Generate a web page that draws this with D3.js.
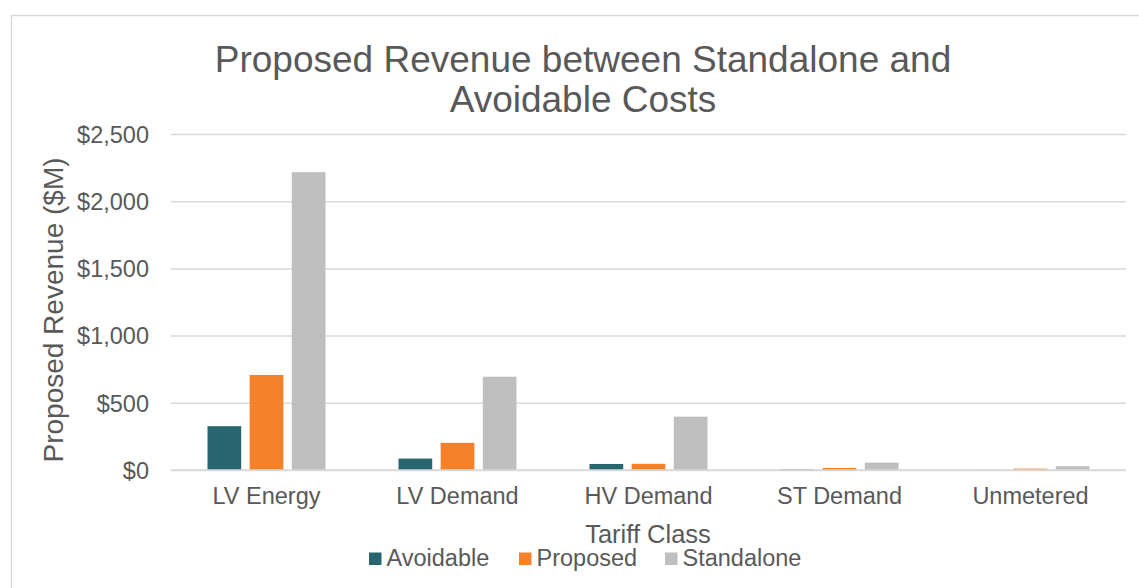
<!DOCTYPE html>
<html>
<head>
<meta charset="utf-8">
<script src="https://cdn.jsdelivr.net/npm/d3@7"></script>
<style>
  body { margin: 0; background: #fff; }
  svg text { font-family: "Liberation Sans", Arial, sans-serif; fill: #595959; }
</style>
</head>
<body>
<svg id="chart" width="1139" height="588"></svg>
<script>
"use strict";

// values ($M)
var categories = ["LV Energy", "LV Demand", "HV Demand", "ST Demand", "Unmetered"];
var seriesNames = ["Avoidable", "Proposed", "Standalone"];
var avoidable = [326, 85, 45, 4, 1];
var proposed = [707, 202, 46, 15, 10];
var standalone = [2216, 694, 397, 55, 28];
var yTicks = [0, 500, 1000, 1500, 2000, 2500];

var colors = {
  "Avoidable": "#27666e",
  "Proposed": "#f5812a",
  "Standalone": "#bfbfbf"
};

var svg = d3.select("#chart");

// chart border (only left and top show in the crop)
svg.append("rect")
  .attr("x", 11.5)
  .attr("y", 15.5)
  .attr("width", 1160)
  .attr("height", 600)
  .style("fill", "none")
  .style("stroke", "#d9d9d9")
  .style("stroke-width", 1.5);

var plot = { left: 171, right: 1126, top: 134, bottom: 470 };

var x0 = d3.scaleBand()
  .domain(categories)
  .range([plot.left, plot.right]);

var groupWidth = 118;
var x1 = d3.scaleBand()
  .domain(seriesNames)
  .range([0, groupWidth])
  .paddingInner(0.2);

var y = d3.scaleLinear()
  .domain([0, 2500])
  .range([plot.bottom, plot.top]);

// gridlines + tick labels
var yAxis = d3.axisLeft(y)
  .tickValues(yTicks)
  .tickSize(-(plot.right - plot.left))
  .tickPadding(22)
  .tickFormat(function (d) { return "$" + d3.format(",")(d); });

var yG = svg.append("g")
  .attr("transform", "translate(" + plot.left + ",0)")
  .call(yAxis);
yG.select(".domain").remove();
yG.selectAll(".tick line")
  .style("stroke", "#d9d9d9")
  .style("stroke-width", 1.5);
yG.selectAll(".tick text")
  .style("font-size", "23.5px")
  .style("fill", "#595959")
  .attr("dy", "0.35em");

// bars
var rows = categories.map(function (c, i) {
  return { cat: c, values: [avoidable[i], proposed[i], standalone[i]] };
});

var groups = svg.selectAll("g.group")
  .data(rows)
  .enter().append("g")
  .attr("class", "group")
  .attr("transform", function (d) {
    return "translate(" + (x0(d.cat) + (x0.bandwidth() - groupWidth) / 2) + ",0)";
  });

groups.selectAll("rect")
  .data(function (d) {
    return seriesNames.map(function (s, k) { return { key: s, value: d.values[k] }; });
  })
  .enter().append("rect")
  .attr("x", function (d) { return x1(d.key); })
  .attr("width", x1.bandwidth())
  .attr("y", function (d) { return y(d.value); })
  .attr("height", function (d) { return y(0) - y(d.value); })
  .style("fill", function (d) { return colors[d.key]; });

// baseline drawn over the bars
svg.append("line")
  .attr("x1", plot.left)
  .attr("x2", plot.right)
  .attr("y1", y(0))
  .attr("y2", y(0))
  .style("stroke", "#d9d9d9")
  .style("stroke-width", 1.5);

// category labels
var xAxis = d3.axisBottom(x0).tickSize(0).tickPadding(17);
var xG = svg.append("g")
  .attr("transform", "translate(0," + plot.bottom + ")")
  .call(xAxis);
xG.select(".domain").remove();
xG.selectAll(".tick text")
  .style("font-size", "23.5px")
  .style("fill", "#595959");

// title
var title = svg.append("text")
  .attr("text-anchor", "middle")
  .attr("x", 583)
  .attr("y", 72)
  .style("font-size", "37px");
title.append("tspan").attr("x", 583).text("Proposed Revenue between Standalone and");
title.append("tspan").attr("x", 583).attr("dy", "40").text("Avoidable Costs");

// axis titles
svg.append("text")
  .attr("text-anchor", "middle")
  .attr("transform", "translate(63,310) rotate(-90)")
  .style("font-size", "28px")
  .text("Proposed Revenue ($M)");

svg.append("text")
  .attr("text-anchor", "middle")
  .attr("x", 648)
  .attr("y", 543)
  .style("font-size", "25.5px")
  .text("Tariff Class");

// legend
var legendX = [369, 519, 665];
var legend = svg.selectAll("g.legend")
  .data(seriesNames)
  .enter().append("g")
  .attr("class", "legend")
  .attr("transform", function (d, i) { return "translate(" + legendX[i] + ",552.5)"; });
legend.append("rect")
  .attr("width", 12.5)
  .attr("height", 12.5)
  .style("fill", function (d) { return colors[d]; });
legend.append("text")
  .attr("x", 17.5)
  .attr("y", 13.5)
  .style("font-size", "23.5px")
  .text(function (d) { return d; });
</script>
</body>
</html>
